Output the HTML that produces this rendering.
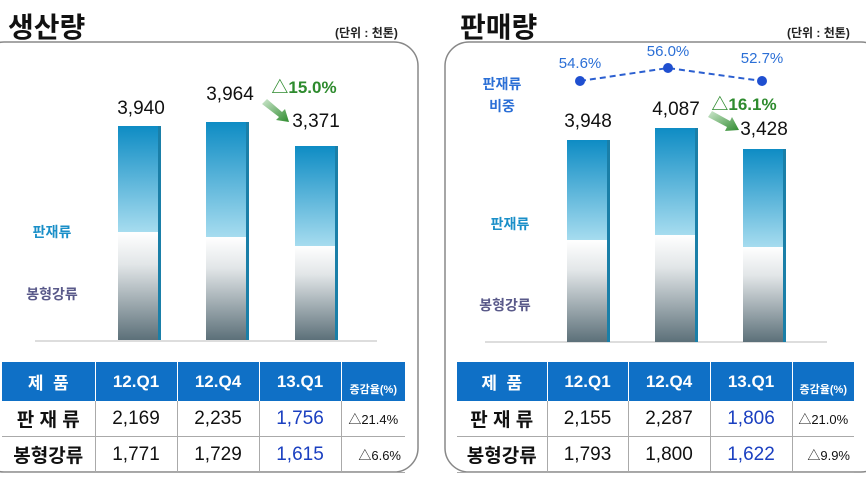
<!DOCTYPE html>
<html><head><meta charset="utf-8"><style>
body{margin:0;width:866px;height:479px;background:#fff;position:relative;overflow:hidden;font-family:"Liberation Sans","Noto Sans CJK KR",sans-serif}
.a{position:absolute;white-space:nowrap}
.t{font-size:28px;font-weight:bold;color:#111}
.u{font-size:12px;font-weight:bold;color:#222}
.v{font-size:19px;color:#111;transform:translateX(-50%)}
.g{font-size:17px;font-weight:bold;color:#2e8b2e;transform:translateX(-50%)}
.lb{font-size:14px;font-weight:bold;color:#1a8fc8;transform:translateX(-50%)}
.lg{font-size:14px;font-weight:bold;color:#5a5a8a;transform:translateX(-50%)}
.p{font-size:15px;color:#2b6fd6;transform:translateX(-50%)}
table{position:absolute;border-collapse:collapse;table-layout:fixed}
td{text-align:center;padding:0;height:35px;border-bottom:1px solid #aaa;border-left:1px solid #aaa;font-size:19px;color:#111}
td:first-child{border-left:none;font-weight:bold}
tr.h td{background:#0f70c6;color:#fff;font-weight:bold;font-size:17px;border-left:1px solid #fff;border-bottom:none}
tr.h td:first-child{border-left:none}
td.b{color:#1a3fc0}
td.s{font-size:13px}
tr.h td.s{font-size:11px;vertical-align:bottom;padding-bottom:4px}
</style></head><body>
<svg class="a" style="left:0;top:0" width="866" height="479">
<defs>
<linearGradient id="bl" x1="0" y1="0" x2="0" y2="1"><stop offset="0" stop-color="#0e8cc4"/><stop offset="1" stop-color="#a6dcef"/></linearGradient>
<linearGradient id="gr" x1="0" y1="0" x2="0" y2="1"><stop offset="0" stop-color="#ffffff"/><stop offset="0.3" stop-color="#e2e6e8"/><stop offset="1" stop-color="#5c7079"/></linearGradient>
<linearGradient id="ar" x1="0" y1="0" x2="1" y2="1"><stop offset="0" stop-color="#cfe8cf"/><stop offset="1" stop-color="#2e8b2e"/></linearGradient>
</defs>
<rect x="-20" y="42" width="438" height="430" rx="24" fill="#fff" stroke="#888" stroke-width="1.5"/>
<rect x="445" y="42" width="440" height="430" rx="24" fill="#fff" stroke="#888" stroke-width="1.5"/>
<line x1="35" y1="341" x2="377" y2="341" stroke="#bbb"/>
<line x1="485" y1="342" x2="827" y2="342" stroke="#bbb"/>
<g>
<rect x="118" y="126" width="40" height="106" fill="url(#bl)"/><rect x="158" y="126" width="3" height="214" fill="#1a7fa8"/><rect x="118" y="232" width="40" height="108" fill="url(#gr)"/>
<rect x="206" y="122" width="40" height="115" fill="url(#bl)"/><rect x="246" y="122" width="3" height="218" fill="#1a7fa8"/><rect x="206" y="237" width="40" height="103" fill="url(#gr)"/>
<rect x="295" y="146" width="40" height="100" fill="url(#bl)"/><rect x="335" y="146" width="3" height="194" fill="#1a7fa8"/><rect x="295" y="246" width="40" height="94" fill="url(#gr)"/>
<rect x="567" y="140" width="40" height="100" fill="url(#bl)"/><rect x="607" y="140" width="3" height="202" fill="#1a7fa8"/><rect x="567" y="240" width="40" height="102" fill="url(#gr)"/>
<rect x="655" y="128" width="40" height="107" fill="url(#bl)"/><rect x="695" y="128" width="3" height="214" fill="#1a7fa8"/><rect x="655" y="235" width="40" height="107" fill="url(#gr)"/>
<rect x="743" y="149" width="40" height="98" fill="url(#bl)"/><rect x="783" y="149" width="3" height="193" fill="#1a7fa8"/><rect x="743" y="247" width="40" height="95" fill="url(#gr)"/>
</g>
<polygon points="262,104 267,99 282,112 285,109 289,122 276,120 279,117" fill="url(#ar)"/>
<polygon points="708,117 712,111 730,121 732,117 739,130 725,131 727,127" fill="url(#ar)"/>
<polyline points="580,81 668,68 762,81" fill="none" stroke="#2b5fd0" stroke-width="2" stroke-dasharray="6,4"/>
<circle cx="580" cy="81" r="5" fill="#1f4fd0"/><circle cx="668" cy="68" r="5" fill="#1f4fd0"/><circle cx="762" cy="81" r="5" fill="#1f4fd0"/>
</svg>
<div class="a t" style="left:8px;top:6px">생산량</div>
<div class="a u" style="left:335px;top:24px">(단위 : 천톤)</div>
<div class="a t" style="left:460px;top:6px">판매량</div>
<div class="a u" style="left:787px;top:24px">(단위 : 천톤)</div>
<div class="a v" style="left:141px;top:98px">3,940</div>
<div class="a v" style="left:230px;top:84px">3,964</div>
<div class="a v" style="left:316px;top:111px">3,371</div>
<div class="a g" style="left:304px;top:73px">△15.0%</div>
<div class="a lb" style="left:52px;top:222px">판재류</div>
<div class="a lg" style="left:52px;top:284px">봉형강류</div>
<div class="a v" style="left:588px;top:111px">3,948</div>
<div class="a v" style="left:676px;top:99px">4,087</div>
<div class="a v" style="left:764px;top:119px">3,428</div>
<div class="a g" style="left:744px;top:90px">△16.1%</div>
<div class="a p" style="left:580px;top:55px">54.6%</div>
<div class="a p" style="left:668px;top:43px">56.0%</div>
<div class="a p" style="left:762px;top:50px">52.7%</div>
<div class="a lb" style="left:502px;top:74px;color:#2b6fd6">판재류</div>
<div class="a lb" style="left:502px;top:96px;color:#2b6fd6">비중</div>
<div class="a lb" style="left:510px;top:214px">판재류</div>
<div class="a lg" style="left:505px;top:295px">봉형강류</div>
<table style="left:2px;top:362px;width:403px">
<colgroup><col style="width:93px"><col style="width:82px"><col style="width:82px"><col style="width:82px"><col style="width:64px"></colgroup>
<tr class="h"><td>제 &nbsp;품</td><td>12.Q1</td><td>12.Q4</td><td>13.Q1</td><td class="s">증감율(%)</td></tr>
<tr><td>판 재 류</td><td>2,169</td><td>2,235</td><td class="b">1,756</td><td class="s">△21.4%</td></tr>
<tr><td>봉형강류</td><td>1,771</td><td>1,729</td><td class="b">1,615</td><td class="s" style="text-align:right;padding-right:4px">△6.6%</td></tr>
</table>
<table style="left:457px;top:362px;width:397px">
<colgroup><col style="width:90px"><col style="width:81px"><col style="width:82px"><col style="width:82px"><col style="width:62px"></colgroup>
<tr class="h"><td>제 &nbsp;품</td><td>12.Q1</td><td>12.Q4</td><td>13.Q1</td><td class="s">증감율(%)</td></tr>
<tr><td>판 재 류</td><td>2,155</td><td>2,287</td><td class="b">1,806</td><td class="s">△21.0%</td></tr>
<tr><td>봉형강류</td><td>1,793</td><td>1,800</td><td class="b">1,622</td><td class="s" style="text-align:right;padding-right:4px">△9.9%</td></tr>
</table>
</body></html>
